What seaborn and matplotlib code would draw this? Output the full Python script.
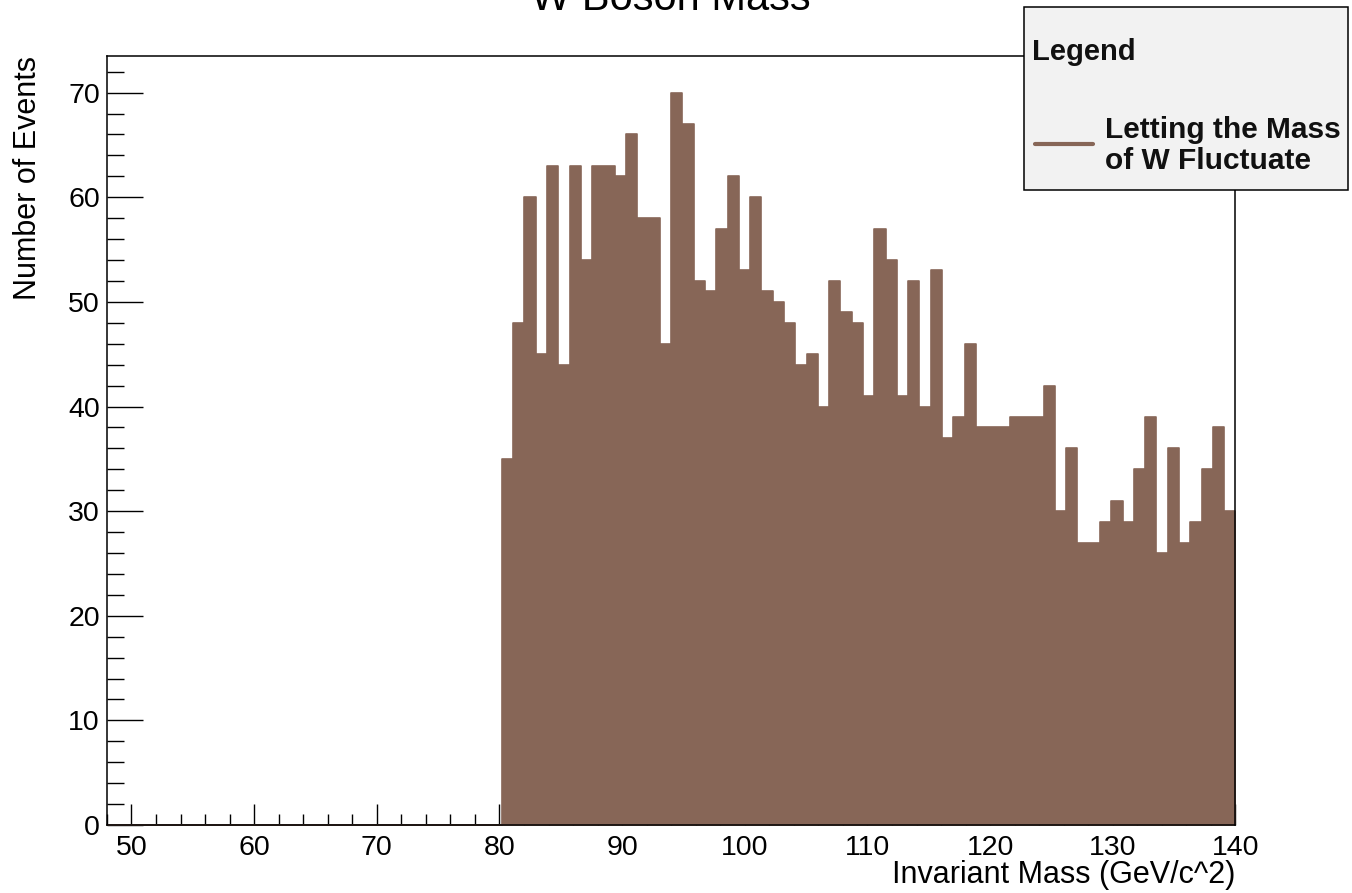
import numpy as np
import pandas as pd
import matplotlib
matplotlib.use("Agg")
import matplotlib.pyplot as plt
from matplotlib.patches import Rectangle
from matplotlib.lines import Line2D
from matplotlib.ticker import MultipleLocator
import seaborn as sns

# ---- labels -------------------------------------------------------------
title = "W Boson Mass"
x_label = "Invariant Mass (GeV/c^2)"
y_label = "Number of Events"
legend_title = "Legend"
series_label = "Letting the Mass\nof W Fluctuate"

# ---- histogram definition: 100 bins between 48 and 140 GeV/c^2 ----------
n_bins = 100
mass_low = 48.0
mass_high = 140.0

# events per bin (bins 0-34 are empty, the cut starts at ~80 GeV/c^2)
events_below_cut = [0] * 35
events_above_cut = [35, 48, 60, 45, 63, 44, 63, 54, 63, 63,
                    62, 66, 58, 58, 46, 70, 67, 52, 51, 57,
                    62, 53, 60, 51, 50, 48, 44, 45, 40, 52,
                    49, 48, 41, 57, 54, 41, 52, 40, 53, 37,
                    39, 46, 38, 38, 38, 39, 39, 39, 42, 30,
                    36, 27, 27, 29, 31, 29, 34, 39, 26, 36,
                    27, 29, 34, 38, 30]
events = events_below_cut + events_above_cut

x_major_ticks = [50, 60, 70, 80, 90, 100, 110, 120, 130, 140]
y_major_ticks = [0, 10, 20, 30, 40, 50, 60, 70]

fill_color = "#876657"

# ---- style --------------------------------------------------------------
sns.set_theme(style="ticks")
plt.rcParams["font.family"] = ["Liberation Sans", "DejaVu Sans"]
plt.rcParams["text.color"] = "black"
plt.rcParams["axes.labelcolor"] = "black"
plt.rcParams["xtick.labelcolor"] = "black"
plt.rcParams["ytick.labelcolor"] = "black"

edges = np.linspace(mass_low, mass_high, n_bins + 1)
centers = 0.5 * (edges[:-1] + edges[1:])
hist_df = pd.DataFrame({"mass": centers, "events": events})

fig = plt.figure(figsize=(13.52, 8.93), dpi=100)
ax = fig.add_axes([0.0791, 0.0761, 0.8347, 0.8612])

sns.histplot(data=hist_df, x="mass", weights="events", bins=list(edges),
             element="step", fill=True, color=fill_color, alpha=1.0,
             linewidth=1.2, ax=ax)

ax.set_xlim(mass_low, mass_high)
ax.set_ylim(0, 1.05 * max(events))

ax.set_xticks(x_major_ticks)
ax.set_yticks(y_major_ticks)
ax.xaxis.set_minor_locator(MultipleLocator(2))
ax.yaxis.set_minor_locator(MultipleLocator(2))

ax.tick_params(axis="both", which="both", direction="in", top=False, right=False,
               color="black", width=1.0, labelcolor="black")
ax.tick_params(axis="x", which="major", length=15, pad=7, labelsize=20.5)
ax.tick_params(axis="x", which="minor", length=8)
ax.tick_params(axis="y", which="major", length=26, pad=5, labelsize=20.5)
ax.tick_params(axis="y", which="minor", length=12.5)

for side in ["left", "right", "top", "bottom"]:
    ax.spines[side].set_visible(True)
    ax.spines[side].set_color("black")
    ax.spines[side].set_linewidth(1.1)

ax.set_xlabel(x_label, fontsize=22, loc="right", color="black")
ax.xaxis.set_label_coords(1.0, -0.065)
ax.xaxis.label.set_verticalalignment("center")

ax.set_ylabel(y_label, fontsize=22, loc="top", color="black")
ax.yaxis.set_label_coords(-0.070, 1.0)
ax.yaxis.label.set_verticalalignment("center")

fig.text(0.496, 1 - 10 / 893, title, ha="center", va="baseline", fontsize=30,
         color="black")

# ---- legend box ---------------------------------------------------------
box = Rectangle((1024 / 1352, 1 - 190 / 893), 324 / 1352, 183 / 893,
                transform=fig.transFigure, facecolor="#f2f2f2",
                edgecolor="black", linewidth=1.1, zorder=10)
fig.add_artist(box)
fig.text(1032 / 1352, 1 - 52 / 893, legend_title, ha="left", va="center",
         fontsize=21, fontweight="bold", color="#111111", zorder=11)
handle = Line2D([1035 / 1352, 1093 / 1352], [1 - 144 / 893, 1 - 144 / 893],
                transform=fig.transFigure, color=fill_color, linewidth=3, zorder=11)
fig.add_artist(handle)
fig.text(1105 / 1352, 1 - 145.5 / 893, series_label, ha="left", va="center",
         fontsize=21.5, fontweight="bold", color="#111111", linespacing=1.15,
         zorder=11)

fig.savefig("out.png", dpi=100)
